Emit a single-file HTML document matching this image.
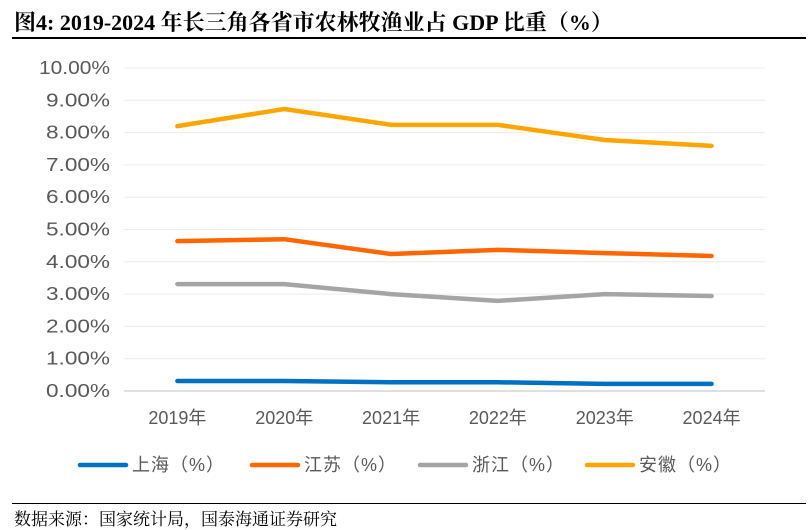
<!DOCTYPE html>
<html><head><meta charset="utf-8"><style>
body{margin:0;background:#fff;width:811px;height:530px;overflow:hidden;position:relative;font-family:"Liberation Sans","Noto Sans CJK SC",sans-serif}
#title{position:absolute;left:14px;top:6px;font-family:"Liberation Serif","Noto Serif CJK SC",serif;font-weight:bold;font-size:22px;color:#000;white-space:nowrap}
#tline{position:absolute;left:12px;top:37px;width:794px;height:2px;background:#000}
#bline{position:absolute;left:12px;top:503px;width:794px;height:1px;background:#000}
#src{position:absolute;left:14px;top:505px;font-family:"Liberation Serif","Noto Serif CJK SC",serif;font-size:17px;color:#000}
svg{position:absolute;left:0;top:0}
</style></head><body>
<div id="title">图4:  2019-2024 年长三角各省市农林牧渔业占 GDP 比重（%）</div>
<div id="tline"></div>
<svg id="chart" width="811" height="530"></svg>
<div id="bline"></div>
<div id="src">数据来源：国家统计局，国泰海通证券研究</div>
<script>
const categories=["2019年","2020年","2021年","2022年","2023年","2024年"];
const shanghai=[0.31,0.31,0.27,0.27,0.22,0.22];
const jiangsu=[4.64,4.70,4.24,4.37,4.27,4.18];
const zhejiang=[3.31,3.31,3.00,2.79,3.00,2.94];
const anhui=[8.20,8.73,8.24,8.24,7.77,7.59];
const yTicks=[0,1,2,3,4,5,6,7,8,9,10];
const seriesNames=["上海（%）","江苏（%）","浙江（%）","安徽（%）"];
const NS="http://www.w3.org/2000/svg";
const svg=document.getElementById('chart');
const x0=124,x1=765,y0=391,y1=68;
const bw=(x1-x0)/categories.length;
const xs=i=>x0+bw*(i+0.5);
const ys=v=>y0-(v/10)*(y0-y1);
function mk(t,a){const e=document.createElementNS(NS,t);for(const k in a)e.setAttribute(k,a[k]);svg.appendChild(e);return e;}
yTicks.forEach(v=>{
  const l=mk('line',{x1:x0,x2:x1,y1:ys(v),y2:ys(v),stroke:v===0?'#bfbfbf':'#ececec','stroke-width':1});
  
  
  const t=mk('text',{x:110,y:ys(v)+6,'text-anchor':'end','font-size':18,fill:'#595959',textLength:71,lengthAdjust:'spacingAndGlyphs'});
  if(v<10) t.setAttribute('textLength',64);
  t.textContent=v.toFixed(2)+'%';
  
  
});
categories.forEach((c,i)=>{
  const t=mk('text',{x:xs(i),y:424,'text-anchor':'middle','font-size':18,fill:'#595959'});
  t.textContent=c;
  
  
});
const data=[shanghai,jiangsu,zhejiang,anhui];
const colors=['#0070c0','#ff6600','#a5a5a5','#ffa500'];
data.forEach((d,k)=>{
  const p=mk('polyline',{points:d.map((v,i)=>xs(i)+','+ys(v)).join(' '),fill:'none',stroke:colors[k],'stroke-width':4.5,'stroke-linejoin':'round','stroke-linecap':'round'});
  
  
});
const lx=[80,252,420,587];
seriesNames.forEach((n,k)=>{
  const l=mk('line',{x1:lx[k],x2:lx[k]+46,y1:465,y2:465,stroke:colors[k],'stroke-width':4.5,'stroke-linecap':'round'});
  
  
  const t=mk('text',{x:lx[k]+52,y:471,'font-size':18,fill:'#595959',textLength:92,lengthAdjust:'spacing'});
  t.textContent=n;
  
  
});
</script>
</body></html>
